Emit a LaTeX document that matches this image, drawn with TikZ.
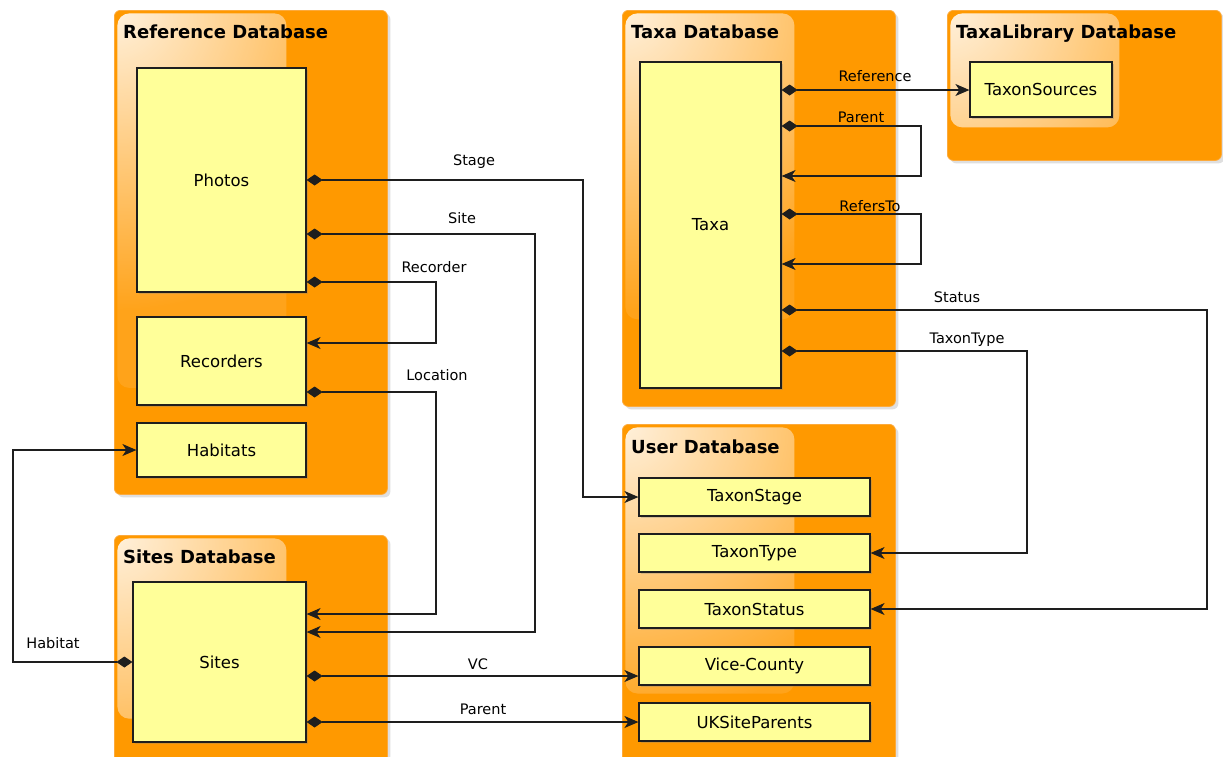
\documentclass[tikz,border=0pt]{standalone}
\usepackage{fontspec}
\setmainfont{DejaVu Sans}
\usetikzlibrary{arrows.meta,shadows,fadings,calc}
\definecolor{dbOrange}{RGB}{255,153,0}
\definecolor{dbRim}{RGB}{252,170,60}
\definecolor{tblFill}{RGB}{255,255,153}
\definecolor{inkLine}{RGB}{30,30,30}
\tikzfading[name=dbgloss, inner color=transparent!15, outer color=transparent!100]
\tikzset{
  dbframe/.style={fill=dbOrange, draw=dbRim, line width=0.8pt, rounded corners=6pt,
    inner sep=0pt, anchor=north west,
    drop shadow={shadow xshift=3pt, shadow yshift=-3pt, opacity=.25},
    path picture={
      \begin{scope}
        \clip[rounded corners=12pt] ([xshift=3pt,yshift=-3pt]path picture bounding box.north west)
          rectangle ($([xshift=172pt]path picture bounding box.north west)!0.78!([xshift=172pt]path picture bounding box.south west)$);
        \fill[white, opacity=.1] (path picture bounding box.north west) rectangle (path picture bounding box.south east);
        \fill[white, path fading=dbgloss]
          ([xshift=-300pt,yshift=300pt]path picture bounding box.north west) rectangle
          ([xshift=300pt,yshift=-300pt]path picture bounding box.north west);
      \end{scope}}},
  dbtitle/.style={font=\fontsize{18}{21}\selectfont\bfseries, anchor=base west, inner sep=0pt},
  tbl/.style={draw=inkLine, fill=tblFill, line width=1.2pt, font=\fontsize{16.5}{19}\selectfont,
    drop shadow={shadow xshift=2pt, shadow yshift=-2pt, opacity=.3}},
  lbl/.style={font=\fontsize{14.5}{17}\selectfont, inner sep=0pt, anchor=base},
  rel/.style={draw=inkLine, line width=1.1pt,
    {Diamond[length=16pt,width=11pt]}-{Stealth[length=14pt,width=12pt,inset=4pt]}}
}

\begin{document}
\begin{tikzpicture}[x=1pt,y=-1pt]
  \clip (0,0) rectangle (1223,756);
  \fill[white] (0,0) rectangle (1223,756);

  % database frames
  \node[dbframe, minimum width=273, minimum height=484] (refdb) at (114,10) {};
  \node[dbframe, minimum width=273, minimum height=396] (taxadb) at (622,10) {};
  \node[dbframe, minimum width=274, minimum height=150] (libdb) at (947,10) {};
  \node[dbframe, minimum width=273, minimum height=345] (userdb) at (622,424) {};
  \node[dbframe, minimum width=273, minimum height=235] (sitesdb) at (114,535) {};

  \node[dbtitle] (refdbt) at ([xshift=9pt,yshift=-28pt]refdb.north west) {Reference Database};
  \node[dbtitle] (taxadbt) at ([xshift=9pt,yshift=-28pt]taxadb.north west) {Taxa Database};
  \node[dbtitle] (libdbt) at ([xshift=9pt,yshift=-28pt]libdb.north west) {TaxaLibrary Database};
  \node[dbtitle] (userdbt) at ([xshift=9pt,yshift=-29pt]userdb.north west) {User Database};
  \node[dbtitle] (sitesdbt) at ([xshift=9pt,yshift=-28pt]sitesdb.north west) {Sites Database};

  % tables
  \node[tbl, minimum width=169, minimum height=224] (photos) at (221.5,180) {Photos};
  \node[tbl, minimum width=169, minimum height=88] (recorders) at (221.5,361) {Recorders};
  \node[tbl, minimum width=169, minimum height=54] (habitats) at (221.5,450) {Habitats};
  \node[tbl, minimum width=173, minimum height=160] (sites) at (219.5,662) {Sites};
  \node[tbl, minimum width=141, minimum height=326] (taxa) at (710.5,225) {Taxa};
  \node[tbl, minimum width=142, minimum height=55] (sources) at (1041,89.5) {TaxonSources};
  \node[tbl, minimum width=231, minimum height=38] (stage) at (754.5,497) {TaxonStage};
  \node[tbl, minimum width=231, minimum height=38] (ttype) at (754.5,553) {TaxonType};
  \node[tbl, minimum width=231, minimum height=38] (status) at (754.5,609) {TaxonStatus};
  \node[tbl, minimum width=231, minimum height=38] (vc) at (754.5,666) {Vice-County};
  \node[tbl, minimum width=231, minimum height=38] (ukparents) at (754.5,722) {UKSiteParents};

  % relations
  \draw[rel] (photos.east |- 0,180) -- (583,180) |- (stage);
  \draw[rel] (photos.east |- 0,234) -- (535,234) |- (sites.east |- 0,632);
  \draw[rel] (photos.east |- 0,282) -- (436,282) |- (recorders.east |- 0,343);
  \draw[rel] (recorders.east |- 0,392) -- (436,392) |- (sites.east |- 0,614);
  \draw[rel] (sites.west |- 0,662) -- (13,662) |- (habitats);
  \draw[rel] (sites.east |- 0,676) -- (vc.west |- 0,676);
  \draw[rel] (sites.east |- 0,722) -- (ukparents);
  \draw[rel] (taxa.east |- 0,90) -- (sources.west |- 0,90);
  \draw[rel] (taxa.east |- 0,126) -- (921,126) |- (taxa.east |- 0,176);
  \draw[rel] (taxa.east |- 0,214) -- (921,214) |- (taxa.east |- 0,264);
  \draw[rel] (taxa.east |- 0,310) -- (1207,310) |- (status.east);
  \draw[rel] (taxa.east |- 0,351) -- (1027,351) |- (ttype.east);

  \node[lbl] (lstage) at (474,165) {Stage};
  \node[lbl] (lsite) at (462,223) {Site};
  \node[lbl] (lrec) at (434,272) {Recorder};
  \node[lbl] (lloc) at (437,380) {Location};
  \node[lbl] (lhab) at (53,648) {Habitat};
  \node[lbl] (lvc) at (478,669) {VC};
  \node[lbl] (lsparent) at (483,714) {Parent};
  \node[lbl] (lref) at (875,81) {Reference};
  \node[lbl] (ltparent) at (861,122) {Parent};
  \node[lbl] (lrefers) at (870,211) {RefersTo};
  \node[lbl] (lstatus) at (957,302) {Status};
  \node[lbl] (lttype) at (967,343) {TaxonType};
\end{tikzpicture}
\end{document}
